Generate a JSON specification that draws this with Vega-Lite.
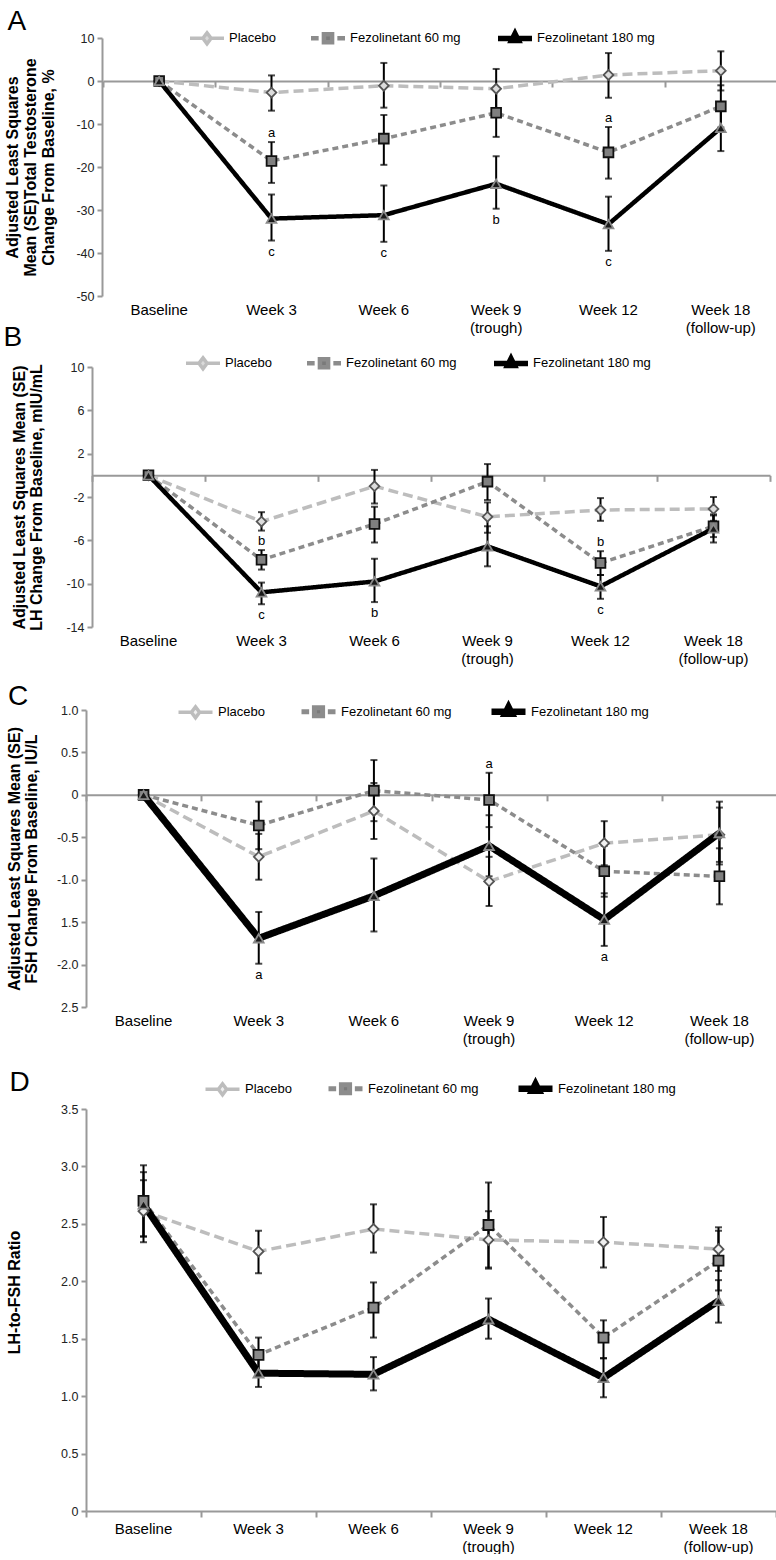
{
  "$schema": "https://vega.github.io/schema/vega-lite/v6.json",
  "background": "white",
  "padding": {"left": 3, "top": 8, "right": 0, "bottom": 0},
  "columns": 1,
  "align": "none",
  "spacing": -11,
  "config": {
    "font": "Liberation Sans",
    "view": {"stroke": null},
    "axisY": {"domainColor": "#999999", "domainWidth": 2, "tickColor": "#999999", "tickWidth": 2, "tickSize": 5, "labelPadding": 3, "labelFontSize": 12.5, "labelColor": "#222222", "titleFontSize": 16, "titleFontWeight": "bold", "titleColor": "#000000", "titleLineHeight": 18, "grid": false},
    "axisX": {"grid": false},
    "title": {"fontSize": 28, "fontWeight": "normal", "anchor": "start", "frame": "bounds", "color": "#000000"},
    "text": {"font": "Liberation Sans"}
  },
  "concat": [
    {
      "width": 691, "height": 258,
      "title": {"text": "A", "dx": 3.5, "offset": -18},
      "data": {"values": [
        {"week": "Baseline", "series": "Placebo", "mean": 0},
        {"week": "Week 3", "series": "Placebo", "mean": -2.7, "lo": -6.9, "hi": 1.3},
        {"week": "Week 6", "series": "Placebo", "mean": -1.1, "lo": -6.2, "hi": 4.2},
        {"week": "Week 9 (trough)", "series": "Placebo", "mean": -1.8, "lo": -6.5, "hi": 2.8},
        {"week": "Week 12", "series": "Placebo", "mean": 1.4, "lo": -3.9, "hi": 6.5},
        {"week": "Week 18 (follow-up)", "series": "Placebo", "mean": 2.4, "lo": -2.2, "hi": 6.9},
        {"week": "Baseline", "series": "Fezolinetant 60 mg", "mean": 0},
        {"week": "Week 3", "series": "Fezolinetant 60 mg", "mean": -18.6, "lo": -23.7, "hi": -14.2, "sig": "a", "sigPos": "above"},
        {"week": "Week 6", "series": "Fezolinetant 60 mg", "mean": -13.4, "lo": -19.5, "hi": -7.9},
        {"week": "Week 9 (trough)", "series": "Fezolinetant 60 mg", "mean": -7.4, "lo": -13.0, "hi": -1.9},
        {"week": "Week 12", "series": "Fezolinetant 60 mg", "mean": -16.6, "lo": -22.7, "hi": -10.7, "sig": "a", "sigPos": "above"},
        {"week": "Week 18 (follow-up)", "series": "Fezolinetant 60 mg", "mean": -5.9, "lo": -10.8, "hi": -1.0},
        {"week": "Baseline", "series": "Fezolinetant 180 mg", "mean": 0},
        {"week": "Week 3", "series": "Fezolinetant 180 mg", "mean": -32.0, "lo": -37.1, "hi": -26.4, "sig": "c", "sigPos": "below"},
        {"week": "Week 6", "series": "Fezolinetant 180 mg", "mean": -31.2, "lo": -37.4, "hi": -24.3, "sig": "c", "sigPos": "below"},
        {"week": "Week 9 (trough)", "series": "Fezolinetant 180 mg", "mean": -23.9, "lo": -29.7, "hi": -17.5, "sig": "b", "sigPos": "below"},
        {"week": "Week 12", "series": "Fezolinetant 180 mg", "mean": -33.3, "lo": -39.5, "hi": -26.9, "sig": "c", "sigPos": "below"},
        {"week": "Week 18 (follow-up)", "series": "Fezolinetant 180 mg", "mean": -10.9, "lo": -16.3, "hi": -5.5}
      ]},
      "encoding": {
        "x": {"field": "week", "type": "ordinal", "sort": ["Baseline", "Week 3", "Week 6", "Week 9 (trough)", "Week 12", "Week 18 (follow-up)"], "scale": {"type": "band", "paddingInner": 0, "paddingOuter": 0, "range": [17, 691]}, "axis": null},
        "y": {"field": "mean", "type": "quantitative", "title": ["Adjusted Least Squares", "Mean (SE)Total Testosterone", "Change From Baseline, %"], "scale": {"domain": [-50, 10], "nice": false, "zero": false}, "axis": {"offset": -16, "values": [-50, -40, -30, -20, -10, 0, 10], "labelExpr": "(datum.value < 0 ? '-' : '') + format(abs(datum.value), 'd')", "minExtent": 28, "maxExtent": 28, "titlePadding": 18}}
      },
      "layer": [
        {
          "mark": {"type": "line", "strokeCap": "butt"},
          "encoding": {
            "x": {"field": "week", "type": "ordinal", "sort": ["Baseline", "Week 3", "Week 6", "Week 9 (trough)", "Week 12", "Week 18 (follow-up)"], "scale": {"type": "band", "paddingInner": 0, "paddingOuter": 0, "range": [17, 691]}, "axis": {"orient": "bottom", "domain": false, "ticks": false, "tickSize": 0, "labelPadding": 6, "labelAngle": 0, "labelFontSize": 15, "labelColor": "#000000", "labelLineHeight": 18, "labelBaseline": "top", "title": null, "labelExpr": "indexof(datum.value, ' (') > 0 ? [substring(datum.value, 0, indexof(datum.value, ' (')), substring(datum.value, indexof(datum.value, ' (') + 1)] : datum.value"}},
            "color": {"field": "series", "type": "nominal", "scale": {"domain": ["Placebo", "Fezolinetant 60 mg", "Fezolinetant 180 mg"], "range": ["#bdbdbd", "#8c8c8c", "#000000"]}, "legend": null},
            "strokeDash": {"field": "series", "type": "nominal", "scale": {"domain": ["Placebo", "Fezolinetant 60 mg", "Fezolinetant 180 mg"], "range": [[10, 5], [6, 4], [1, 0]]}, "legend": null},
            "strokeWidth": {"condition": {"test": "datum.series == 'Fezolinetant 180 mg'", "value": 4.5}, "value": 3.5}
          }
        },
        {
          "transform": [{"filter": "isValid(datum.lo)"}],
          "mark": {"type": "errorbar", "color": "#000000", "ticks": {"size": 7, "thickness": 2, "color": "#000000"}, "rule": {"strokeWidth": 2, "color": "#000000"}},
          "encoding": {
            "y": {"field": "lo", "type": "quantitative", "title": ["Adjusted Least Squares", "Mean (SE)Total Testosterone", "Change From Baseline, %"], "scale": {"domain": [-50, 10], "nice": false, "zero": false}, "axis": {"offset": -16, "values": [-50, -40, -30, -20, -10, 0, 10], "labelExpr": "(datum.value < 0 ? '-' : '') + format(abs(datum.value), 'd')", "minExtent": 28, "maxExtent": 28, "titlePadding": 18}},
            "y2": {"field": "hi"}
          }
        },
        {
          "mark": {"type": "point", "filled": true, "size": 95, "strokeWidth": 1.8, "opacity": 1},
          "encoding": {
            "shape": {"field": "series", "type": "nominal", "scale": {"domain": ["Placebo", "Fezolinetant 60 mg", "Fezolinetant 180 mg"], "range": ["diamond", "square", "triangle-up"]}, "legend": null},
            "fill": {"field": "series", "type": "nominal", "scale": {"domain": ["Placebo", "Fezolinetant 60 mg", "Fezolinetant 180 mg"], "range": ["#dcdcdc", "#7f7f7f", "#1a1a1a"]}, "legend": null},
            "stroke": {"field": "series", "type": "nominal", "scale": {"domain": ["Placebo", "Fezolinetant 60 mg", "Fezolinetant 180 mg"], "range": ["#555555", "#111111", "#8a8a8a"]}, "legend": null}
          }
        },
        {
          "transform": [{"filter": "datum.sigPos == 'above'"}],
          "mark": {"type": "text", "dy": -9, "fontSize": 13, "color": "#000000"},
          "encoding": {
            "y": {"field": "hi", "type": "quantitative", "title": ["Adjusted Least Squares", "Mean (SE)Total Testosterone", "Change From Baseline, %"], "scale": {"domain": [-50, 10], "nice": false, "zero": false}, "axis": {"offset": -16, "values": [-50, -40, -30, -20, -10, 0, 10], "labelExpr": "(datum.value < 0 ? '-' : '') + format(abs(datum.value), 'd')", "minExtent": 28, "maxExtent": 28, "titlePadding": 18}},
            "text": {"field": "sig"}
          }
        },
        {
          "transform": [{"filter": "datum.sigPos == 'below'"}],
          "mark": {"type": "text", "dy": 11, "fontSize": 13, "color": "#000000"},
          "encoding": {
            "y": {"field": "lo", "type": "quantitative", "title": ["Adjusted Least Squares", "Mean (SE)Total Testosterone", "Change From Baseline, %"], "scale": {"domain": [-50, 10], "nice": false, "zero": false}, "axis": {"offset": -16, "values": [-50, -40, -30, -20, -10, 0, 10], "labelExpr": "(datum.value < 0 ? '-' : '') + format(abs(datum.value), 'd')", "minExtent": 28, "maxExtent": 28, "titlePadding": 18}},
            "text": {"field": "sig"}
          }
        },
        {
          "transform": [{"filter": "false"}],
          "mark": {"type": "point", "filled": true, "opacity": 1},
          "encoding": {
            "x": {"field": "week", "type": "ordinal", "sort": ["Baseline", "Week 3", "Week 6", "Week 9 (trough)", "Week 12", "Week 18 (follow-up)"], "scale": {"type": "band", "paddingInner": 0, "paddingOuter": 0, "range": [17, 691]}, "axis": {"orient": "bottom", "offset": -215, "labels": false, "ticks": true, "tickBand": "extent", "tickSize": 6, "tickWidth": 2, "tickColor": "#999999", "domain": true, "domainColor": "#999999", "domainWidth": 2, "title": null}},
            "shape": {"field": "series", "type": "nominal", "scale": {"domain": ["Placebo", "Fezolinetant 60 mg", "Fezolinetant 180 mg"], "range": ["M-1,0L-0.24,0M0.24,0L1,0M0,-0.32L0.24,0L0,0.32L-0.24,0Z", "M-1,0L-0.55,0M0.55,0L1,0M-0.24,-0.24L0.24,-0.24L0.24,0.24L-0.24,0.24Z", "M-1,0L1,0M0,-0.28L0.2,0.12L-0.2,0.12Z"]}, "legend": {"orient": "none", "legendX": 101, "legendY": -20, "direction": "horizontal", "columns": 3, "title": null, "symbolSize": 1156, "labelFontSize": 13, "labelColor": "#000000", "labelOffset": 2, "columnPadding": 26}},
            "fill": {"field": "series", "type": "nominal", "scale": {"domain": ["Placebo", "Fezolinetant 60 mg", "Fezolinetant 180 mg"], "range": ["#d9d9d9", "#7a7a7a", "#111111"]}, "legend": {"orient": "none", "legendX": 101, "legendY": -20, "direction": "horizontal", "columns": 3, "title": null, "symbolSize": 1156, "labelFontSize": 13, "labelColor": "#000000", "labelOffset": 2, "columnPadding": 26}},
            "stroke": {"field": "series", "type": "nominal", "scale": {"domain": ["Placebo", "Fezolinetant 60 mg", "Fezolinetant 180 mg"], "range": ["#bdbdbd", "#8c8c8c", "#000000"]}, "legend": {"orient": "none", "legendX": 101, "legendY": -20, "direction": "horizontal", "columns": 3, "title": null, "symbolSize": 1156, "labelFontSize": 13, "labelColor": "#000000", "labelOffset": 2, "columnPadding": 26}},
            "strokeWidth": {"field": "series", "type": "ordinal", "scale": {"domain": ["Placebo", "Fezolinetant 60 mg", "Fezolinetant 180 mg"], "range": [3.5, 5.5]}, "legend": {"orient": "none", "legendX": 101, "legendY": -20, "direction": "horizontal", "columns": 3, "title": null, "symbolSize": 1156, "labelFontSize": 13, "labelColor": "#000000", "labelOffset": 2, "columnPadding": 26}}
          }
        }
      ],
      "resolve": {"scale": {"shape": "independent", "fill": "independent", "stroke": "independent", "strokeWidth": "independent"}, "axis": {"x": "independent"}}
    },
    {
      "columns": 1,
      "align": "none",
      "spacing": 17,
      "concat": [
        {
          "width": 684, "height": 260,
          "title": {"text": "B", "dx": -7.5, "offset": -9},
          "data": {"values": [
            {"week": "Baseline", "series": "Placebo", "mean": 0},
            {"week": "Week 3", "series": "Placebo", "mean": -4.27, "lo": -5.1, "hi": -3.4},
            {"week": "Week 6", "series": "Placebo", "mean": -1.0, "lo": -2.6, "hi": 0.5},
            {"week": "Week 9 (trough)", "series": "Placebo", "mean": -3.83, "lo": -5.3, "hi": -2.5},
            {"week": "Week 12", "series": "Placebo", "mean": -3.2, "lo": -4.2, "hi": -2.1},
            {"week": "Week 18 (follow-up)", "series": "Placebo", "mean": -3.1, "lo": -4.2, "hi": -2.0},
            {"week": "Baseline", "series": "Fezolinetant 60 mg", "mean": 0},
            {"week": "Week 3", "series": "Fezolinetant 60 mg", "mean": -7.8, "lo": -8.7, "hi": -6.9, "sig": "b", "sigPos": "above"},
            {"week": "Week 6", "series": "Fezolinetant 60 mg", "mean": -4.5, "lo": -6.2, "hi": -2.9},
            {"week": "Week 9 (trough)", "series": "Fezolinetant 60 mg", "mean": -0.58, "lo": -2.28, "hi": 1.04},
            {"week": "Week 12", "series": "Fezolinetant 60 mg", "mean": -8.1, "lo": -9.2, "hi": -7.0, "sig": "b", "sigPos": "above"},
            {"week": "Week 18 (follow-up)", "series": "Fezolinetant 60 mg", "mean": -4.7, "lo": -5.7, "hi": -3.7},
            {"week": "Baseline", "series": "Fezolinetant 180 mg", "mean": 0},
            {"week": "Week 3", "series": "Fezolinetant 180 mg", "mean": -10.8, "lo": -11.9, "hi": -9.9, "sig": "c", "sigPos": "below"},
            {"week": "Week 6", "series": "Fezolinetant 180 mg", "mean": -9.8, "lo": -11.7, "hi": -7.7, "sig": "b", "sigPos": "below"},
            {"week": "Week 9 (trough)", "series": "Fezolinetant 180 mg", "mean": -6.55, "lo": -8.4, "hi": -4.7},
            {"week": "Week 12", "series": "Fezolinetant 180 mg", "mean": -10.25, "lo": -11.4, "hi": -9.2, "sig": "c", "sigPos": "below"},
            {"week": "Week 18 (follow-up)", "series": "Fezolinetant 180 mg", "mean": -4.9, "lo": -6.2, "hi": -3.6}
          ]},
          "encoding": {
            "x": {"field": "week", "type": "ordinal", "sort": ["Baseline", "Week 3", "Week 6", "Week 9 (trough)", "Week 12", "Week 18 (follow-up)"], "scale": {"type": "band", "paddingInner": 0, "paddingOuter": 0, "range": [6, 684]}, "axis": null},
            "y": {"field": "mean", "type": "quantitative", "title": ["Adjusted Least Squares Mean (SE)", "LH Change From Baseline, mIU/mL"], "scale": {"domain": [-14, 10], "nice": false, "zero": false}, "axis": {"offset": -6, "values": [-14, -10, -6, -2, 2, 6, 10], "labelExpr": "(datum.value < 0 ? '-' : '') + format(abs(datum.value), 'd')", "minExtent": 32, "maxExtent": 32, "titlePadding": 16, "titleLineHeight": 17}}
          },
          "layer": [
            {
              "mark": {"type": "line", "strokeCap": "butt"},
              "encoding": {
                "x": {"field": "week", "type": "ordinal", "sort": ["Baseline", "Week 3", "Week 6", "Week 9 (trough)", "Week 12", "Week 18 (follow-up)"], "scale": {"type": "band", "paddingInner": 0, "paddingOuter": 0, "range": [6, 684]}, "axis": {"orient": "bottom", "domain": false, "ticks": false, "tickSize": 0, "labelPadding": 6, "labelAngle": 0, "labelFontSize": 15, "labelColor": "#000000", "labelLineHeight": 18, "labelBaseline": "top", "title": null, "labelExpr": "indexof(datum.value, ' (') > 0 ? [substring(datum.value, 0, indexof(datum.value, ' (')), substring(datum.value, indexof(datum.value, ' (') + 1)] : datum.value"}},
                "color": {"field": "series", "type": "nominal", "scale": {"domain": ["Placebo", "Fezolinetant 60 mg", "Fezolinetant 180 mg"], "range": ["#bdbdbd", "#8c8c8c", "#000000"]}, "legend": null},
                "strokeDash": {"field": "series", "type": "nominal", "scale": {"domain": ["Placebo", "Fezolinetant 60 mg", "Fezolinetant 180 mg"], "range": [[10, 5], [6, 4], [1, 0]]}, "legend": null},
                "strokeWidth": {"condition": {"test": "datum.series == 'Fezolinetant 180 mg'", "value": 4.5}, "value": 3.5}
              }
            },
            {
              "transform": [{"filter": "isValid(datum.lo)"}],
              "mark": {"type": "errorbar", "color": "#000000", "ticks": {"size": 7, "thickness": 2, "color": "#000000"}, "rule": {"strokeWidth": 2, "color": "#000000"}},
              "encoding": {
                "y": {"field": "lo", "type": "quantitative", "title": ["Adjusted Least Squares Mean (SE)", "LH Change From Baseline, mIU/mL"], "scale": {"domain": [-14, 10], "nice": false, "zero": false}, "axis": {"offset": -6, "values": [-14, -10, -6, -2, 2, 6, 10], "labelExpr": "(datum.value < 0 ? '-' : '') + format(abs(datum.value), 'd')", "minExtent": 32, "maxExtent": 32, "titlePadding": 16, "titleLineHeight": 17}},
                "y2": {"field": "hi"}
              }
            },
            {
              "mark": {"type": "point", "filled": true, "size": 95, "strokeWidth": 1.8, "opacity": 1},
              "encoding": {
                "shape": {"field": "series", "type": "nominal", "scale": {"domain": ["Placebo", "Fezolinetant 60 mg", "Fezolinetant 180 mg"], "range": ["diamond", "square", "triangle-up"]}, "legend": null},
                "fill": {"field": "series", "type": "nominal", "scale": {"domain": ["Placebo", "Fezolinetant 60 mg", "Fezolinetant 180 mg"], "range": ["#dcdcdc", "#7f7f7f", "#1a1a1a"]}, "legend": null},
                "stroke": {"field": "series", "type": "nominal", "scale": {"domain": ["Placebo", "Fezolinetant 60 mg", "Fezolinetant 180 mg"], "range": ["#555555", "#111111", "#8a8a8a"]}, "legend": null}
              }
            },
            {
              "transform": [{"filter": "datum.sigPos == 'above'"}],
              "mark": {"type": "text", "dy": -9, "fontSize": 13, "color": "#000000"},
              "encoding": {
                "y": {"field": "hi", "type": "quantitative", "title": ["Adjusted Least Squares Mean (SE)", "LH Change From Baseline, mIU/mL"], "scale": {"domain": [-14, 10], "nice": false, "zero": false}, "axis": {"offset": -6, "values": [-14, -10, -6, -2, 2, 6, 10], "labelExpr": "(datum.value < 0 ? '-' : '') + format(abs(datum.value), 'd')", "minExtent": 32, "maxExtent": 32, "titlePadding": 16, "titleLineHeight": 17}},
                "text": {"field": "sig"}
              }
            },
            {
              "transform": [{"filter": "datum.sigPos == 'below'"}],
              "mark": {"type": "text", "dy": 11, "fontSize": 13, "color": "#000000"},
              "encoding": {
                "y": {"field": "lo", "type": "quantitative", "title": ["Adjusted Least Squares Mean (SE)", "LH Change From Baseline, mIU/mL"], "scale": {"domain": [-14, 10], "nice": false, "zero": false}, "axis": {"offset": -6, "values": [-14, -10, -6, -2, 2, 6, 10], "labelExpr": "(datum.value < 0 ? '-' : '') + format(abs(datum.value), 'd')", "minExtent": 32, "maxExtent": 32, "titlePadding": 16, "titleLineHeight": 17}},
                "text": {"field": "sig"}
              }
            },
            {
              "transform": [{"filter": "false"}],
              "mark": {"type": "point", "filled": true, "opacity": 1},
              "encoding": {
                "x": {"field": "week", "type": "ordinal", "sort": ["Baseline", "Week 3", "Week 6", "Week 9 (trough)", "Week 12", "Week 18 (follow-up)"], "scale": {"type": "band", "paddingInner": 0, "paddingOuter": 0, "range": [6, 684]}, "axis": {"orient": "bottom", "offset": -151.67, "labels": false, "ticks": true, "tickBand": "extent", "tickSize": 6, "tickWidth": 2, "tickColor": "#999999", "domain": true, "domainColor": "#999999", "domainWidth": 2, "title": null}},
                "shape": {"field": "series", "type": "nominal", "scale": {"domain": ["Placebo", "Fezolinetant 60 mg", "Fezolinetant 180 mg"], "range": ["M-1,0L-0.24,0M0.24,0L1,0M0,-0.32L0.24,0L0,0.32L-0.24,0Z", "M-1,0L-0.55,0M0.55,0L1,0M-0.24,-0.24L0.24,-0.24L0.24,0.24L-0.24,0.24Z", "M-1,0L1,0M0,-0.28L0.2,0.12L-0.2,0.12Z"]}, "legend": {"orient": "none", "legendX": 97, "legendY": -24, "direction": "horizontal", "columns": 3, "title": null, "symbolSize": 1156, "labelFontSize": 13, "labelColor": "#000000", "labelOffset": 2, "columnPadding": 26}},
                "fill": {"field": "series", "type": "nominal", "scale": {"domain": ["Placebo", "Fezolinetant 60 mg", "Fezolinetant 180 mg"], "range": ["#d9d9d9", "#7a7a7a", "#111111"]}, "legend": {"orient": "none", "legendX": 97, "legendY": -24, "direction": "horizontal", "columns": 3, "title": null, "symbolSize": 1156, "labelFontSize": 13, "labelColor": "#000000", "labelOffset": 2, "columnPadding": 26}},
                "stroke": {"field": "series", "type": "nominal", "scale": {"domain": ["Placebo", "Fezolinetant 60 mg", "Fezolinetant 180 mg"], "range": ["#bdbdbd", "#8c8c8c", "#000000"]}, "legend": {"orient": "none", "legendX": 97, "legendY": -24, "direction": "horizontal", "columns": 3, "title": null, "symbolSize": 1156, "labelFontSize": 13, "labelColor": "#000000", "labelOffset": 2, "columnPadding": 26}},
                "strokeWidth": {"field": "series", "type": "ordinal", "scale": {"domain": ["Placebo", "Fezolinetant 60 mg", "Fezolinetant 180 mg"], "range": [3.5, 5.5]}, "legend": {"orient": "none", "legendX": 97, "legendY": -24, "direction": "horizontal", "columns": 3, "title": null, "symbolSize": 1156, "labelFontSize": 13, "labelColor": "#000000", "labelOffset": 2, "columnPadding": 26}}
              }
            }
          ],
          "resolve": {"scale": {"shape": "independent", "fill": "independent", "stroke": "independent", "strokeWidth": "independent"}, "axis": {"x": "independent"}}
        },
        {
          "columns": 1,
          "align": "none",
          "spacing": 22,
          "concat": [
            {
              "width": 691, "height": 297,
              "title": {"text": "C", "dx": 2, "offset": -20},
              "data": {"values": [
                {"week": "Baseline", "series": "Placebo", "mean": 0},
                {"week": "Week 3", "series": "Placebo", "mean": -0.73, "lo": -1.0, "hi": -0.46},
                {"week": "Week 6", "series": "Placebo", "mean": -0.19, "lo": -0.52, "hi": 0.14},
                {"week": "Week 9 (trough)", "series": "Placebo", "mean": -1.02, "lo": -1.31, "hi": -0.73},
                {"week": "Week 12", "series": "Placebo", "mean": -0.57, "lo": -0.83, "hi": -0.31},
                {"week": "Week 18 (follow-up)", "series": "Placebo", "mean": -0.47, "lo": -0.79, "hi": -0.15},
                {"week": "Baseline", "series": "Fezolinetant 60 mg", "mean": 0},
                {"week": "Week 3", "series": "Fezolinetant 60 mg", "mean": -0.36, "lo": -0.64, "hi": -0.08},
                {"week": "Week 6", "series": "Fezolinetant 60 mg", "mean": 0.05, "lo": -0.31, "hi": 0.41},
                {"week": "Week 9 (trough)", "series": "Fezolinetant 60 mg", "mean": -0.06, "lo": -0.38, "hi": 0.26, "sig": "a", "sigPos": "above"},
                {"week": "Week 12", "series": "Fezolinetant 60 mg", "mean": -0.9, "lo": -1.2, "hi": -0.6},
                {"week": "Week 18 (follow-up)", "series": "Fezolinetant 60 mg", "mean": -0.96, "lo": -1.29, "hi": -0.63},
                {"week": "Baseline", "series": "Fezolinetant 180 mg", "mean": 0},
                {"week": "Week 3", "series": "Fezolinetant 180 mg", "mean": -1.69, "lo": -1.99, "hi": -1.38, "sig": "a", "sigPos": "below"},
                {"week": "Week 6", "series": "Fezolinetant 180 mg", "mean": -1.19, "lo": -1.61, "hi": -0.75},
                {"week": "Week 9 (trough)", "series": "Fezolinetant 180 mg", "mean": -0.6, "lo": -0.96, "hi": -0.24},
                {"week": "Week 12", "series": "Fezolinetant 180 mg", "mean": -1.47, "lo": -1.78, "hi": -1.16, "sig": "a", "sigPos": "below"},
                {"week": "Week 18 (follow-up)", "series": "Fezolinetant 180 mg", "mean": -0.45, "lo": -0.82, "hi": -0.08}
              ]},
              "encoding": {
                "x": {"field": "week", "type": "ordinal", "sort": ["Baseline", "Week 3", "Week 6", "Week 9 (trough)", "Week 12", "Week 18 (follow-up)"], "scale": {"type": "band", "paddingInner": 0, "paddingOuter": 0}, "axis": null},
                "y": {"field": "mean", "type": "quantitative", "title": ["Adjusted Least Squares Mean (SE)", "FSH Change From Baseline, IU/L"], "scale": {"domain": [-2.5, 1], "nice": false, "zero": false}, "axis": {"values": [-2.5, -2, -1.5, -1, -0.5, 0, 0.5, 1], "labelExpr": "datum.value == 0 ? '0' : (datum.value == -1.5 ? '1.5' : (datum.value == -2.5 ? '2.5' : (datum.value < 0 ? '-' : '') + format(abs(datum.value), '.1f')))", "minExtent": 33, "maxExtent": 33, "titlePadding": 14, "titleLineHeight": 17}}
              },
              "layer": [
                {
                  "mark": {"type": "line", "strokeCap": "butt"},
                  "encoding": {
                    "x": {"field": "week", "type": "ordinal", "sort": ["Baseline", "Week 3", "Week 6", "Week 9 (trough)", "Week 12", "Week 18 (follow-up)"], "scale": {"type": "band", "paddingInner": 0, "paddingOuter": 0}, "axis": {"orient": "bottom", "domain": false, "ticks": false, "tickSize": 0, "labelPadding": 6, "labelAngle": 0, "labelFontSize": 15, "labelColor": "#000000", "labelLineHeight": 18, "labelBaseline": "top", "title": null, "labelExpr": "indexof(datum.value, ' (') > 0 ? [substring(datum.value, 0, indexof(datum.value, ' (')), substring(datum.value, indexof(datum.value, ' (') + 1)] : datum.value"}},
                    "color": {"field": "series", "type": "nominal", "scale": {"domain": ["Placebo", "Fezolinetant 60 mg", "Fezolinetant 180 mg"], "range": ["#bdbdbd", "#8c8c8c", "#000000"]}, "legend": null},
                    "strokeDash": {"field": "series", "type": "nominal", "scale": {"domain": ["Placebo", "Fezolinetant 60 mg", "Fezolinetant 180 mg"], "range": [[10, 5], [6, 4], [1, 0]]}, "legend": null},
                    "strokeWidth": {"condition": {"test": "datum.series == 'Fezolinetant 180 mg'", "value": 7}, "value": 3.5}
                  }
                },
                {
                  "transform": [{"filter": "isValid(datum.lo)"}],
                  "mark": {"type": "errorbar", "color": "#000000", "ticks": {"size": 7, "thickness": 2, "color": "#000000"}, "rule": {"strokeWidth": 2, "color": "#000000"}},
                  "encoding": {
                    "y": {"field": "lo", "type": "quantitative", "title": ["Adjusted Least Squares Mean (SE)", "FSH Change From Baseline, IU/L"], "scale": {"domain": [-2.5, 1], "nice": false, "zero": false}, "axis": {"values": [-2.5, -2, -1.5, -1, -0.5, 0, 0.5, 1], "labelExpr": "datum.value == 0 ? '0' : (datum.value == -1.5 ? '1.5' : (datum.value == -2.5 ? '2.5' : (datum.value < 0 ? '-' : '') + format(abs(datum.value), '.1f')))", "minExtent": 33, "maxExtent": 33, "titlePadding": 14, "titleLineHeight": 17}},
                    "y2": {"field": "hi"}
                  }
                },
                {
                  "mark": {"type": "point", "filled": true, "size": 95, "strokeWidth": 1.8, "opacity": 1},
                  "encoding": {
                    "shape": {"field": "series", "type": "nominal", "scale": {"domain": ["Placebo", "Fezolinetant 60 mg", "Fezolinetant 180 mg"], "range": ["diamond", "square", "triangle-up"]}, "legend": null},
                    "fill": {"field": "series", "type": "nominal", "scale": {"domain": ["Placebo", "Fezolinetant 60 mg", "Fezolinetant 180 mg"], "range": ["#f0f0f0", "#7f7f7f", "#1a1a1a"]}, "legend": null},
                    "stroke": {"field": "series", "type": "nominal", "scale": {"domain": ["Placebo", "Fezolinetant 60 mg", "Fezolinetant 180 mg"], "range": ["#555555", "#111111", "#8a8a8a"]}, "legend": null}
                  }
                },
                {
                  "transform": [{"filter": "datum.sigPos == 'above'"}],
                  "mark": {"type": "text", "dy": -9, "fontSize": 13, "color": "#000000"},
                  "encoding": {
                    "y": {"field": "hi", "type": "quantitative", "title": ["Adjusted Least Squares Mean (SE)", "FSH Change From Baseline, IU/L"], "scale": {"domain": [-2.5, 1], "nice": false, "zero": false}, "axis": {"values": [-2.5, -2, -1.5, -1, -0.5, 0, 0.5, 1], "labelExpr": "datum.value == 0 ? '0' : (datum.value == -1.5 ? '1.5' : (datum.value == -2.5 ? '2.5' : (datum.value < 0 ? '-' : '') + format(abs(datum.value), '.1f')))", "minExtent": 33, "maxExtent": 33, "titlePadding": 14, "titleLineHeight": 17}},
                    "text": {"field": "sig"}
                  }
                },
                {
                  "transform": [{"filter": "datum.sigPos == 'below'"}],
                  "mark": {"type": "text", "dy": 11, "fontSize": 13, "color": "#000000"},
                  "encoding": {
                    "y": {"field": "lo", "type": "quantitative", "title": ["Adjusted Least Squares Mean (SE)", "FSH Change From Baseline, IU/L"], "scale": {"domain": [-2.5, 1], "nice": false, "zero": false}, "axis": {"values": [-2.5, -2, -1.5, -1, -0.5, 0, 0.5, 1], "labelExpr": "datum.value == 0 ? '0' : (datum.value == -1.5 ? '1.5' : (datum.value == -2.5 ? '2.5' : (datum.value < 0 ? '-' : '') + format(abs(datum.value), '.1f')))", "minExtent": 33, "maxExtent": 33, "titlePadding": 14, "titleLineHeight": 17}},
                    "text": {"field": "sig"}
                  }
                },
                {
                  "transform": [{"filter": "false"}],
                  "mark": {"type": "point", "filled": true, "opacity": 1},
                  "encoding": {
                    "x": {"field": "week", "type": "ordinal", "sort": ["Baseline", "Week 3", "Week 6", "Week 9 (trough)", "Week 12", "Week 18 (follow-up)"], "scale": {"type": "band", "paddingInner": 0, "paddingOuter": 0}, "axis": {"orient": "bottom", "offset": -212.14, "labels": false, "ticks": true, "tickBand": "extent", "tickSize": 6, "tickWidth": 2, "tickColor": "#999999", "domain": true, "domainColor": "#999999", "domainWidth": 2, "title": null}},
                    "shape": {"field": "series", "type": "nominal", "scale": {"domain": ["Placebo", "Fezolinetant 60 mg", "Fezolinetant 180 mg"], "range": ["M-1,0L-0.24,0M0.24,0L1,0M0,-0.32L0.24,0L0,0.32L-0.24,0Z", "M-1,0L-0.55,0M0.55,0L1,0M-0.24,-0.24L0.24,-0.24L0.24,0.24L-0.24,0.24Z", "M-1,0L1,0M0,-0.28L0.2,0.12L-0.2,0.12Z"]}, "legend": {"orient": "none", "legendX": 89, "legendY": -19, "direction": "horizontal", "columns": 3, "title": null, "symbolSize": 1156, "labelFontSize": 13, "labelColor": "#000000", "labelOffset": 2, "columnPadding": 26}},
                    "fill": {"field": "series", "type": "nominal", "scale": {"domain": ["Placebo", "Fezolinetant 60 mg", "Fezolinetant 180 mg"], "range": ["#f0f0f0", "#7a7a7a", "#111111"]}, "legend": {"orient": "none", "legendX": 89, "legendY": -19, "direction": "horizontal", "columns": 3, "title": null, "symbolSize": 1156, "labelFontSize": 13, "labelColor": "#000000", "labelOffset": 2, "columnPadding": 26}},
                    "stroke": {"field": "series", "type": "nominal", "scale": {"domain": ["Placebo", "Fezolinetant 60 mg", "Fezolinetant 180 mg"], "range": ["#bdbdbd", "#8c8c8c", "#000000"]}, "legend": {"orient": "none", "legendX": 89, "legendY": -19, "direction": "horizontal", "columns": 3, "title": null, "symbolSize": 1156, "labelFontSize": 13, "labelColor": "#000000", "labelOffset": 2, "columnPadding": 26}},
                    "strokeWidth": {"field": "series", "type": "ordinal", "scale": {"domain": ["Placebo", "Fezolinetant 60 mg", "Fezolinetant 180 mg"], "range": [3.5, 6.5]}, "legend": {"orient": "none", "legendX": 89, "legendY": -19, "direction": "horizontal", "columns": 3, "title": null, "symbolSize": 1156, "labelFontSize": 13, "labelColor": "#000000", "labelOffset": 2, "columnPadding": 26}}
                  }
                }
              ],
              "resolve": {"scale": {"shape": "independent", "fill": "independent", "stroke": "independent", "strokeWidth": "independent"}, "axis": {"x": "independent"}}
            },
            {
              "width": 690, "height": 402,
              "title": {"text": "D", "dx": 3.5, "offset": -29},
              "data": {"values": [
                {"week": "Baseline", "series": "Placebo", "mean": 2.61, "lo": 2.34, "hi": 2.88},
                {"week": "Week 3", "series": "Placebo", "mean": 2.26, "lo": 2.07, "hi": 2.44},
                {"week": "Week 6", "series": "Placebo", "mean": 2.455, "lo": 2.25, "hi": 2.67},
                {"week": "Week 9 (trough)", "series": "Placebo", "mean": 2.36, "lo": 2.11, "hi": 2.61},
                {"week": "Week 12", "series": "Placebo", "mean": 2.34, "lo": 2.12, "hi": 2.56},
                {"week": "Week 18 (follow-up)", "series": "Placebo", "mean": 2.28, "lo": 2.09, "hi": 2.47},
                {"week": "Baseline", "series": "Fezolinetant 60 mg", "mean": 2.7, "lo": 2.39, "hi": 3.01},
                {"week": "Week 3", "series": "Fezolinetant 60 mg", "mean": 1.36, "lo": 1.22, "hi": 1.51},
                {"week": "Week 6", "series": "Fezolinetant 60 mg", "mean": 1.77, "lo": 1.51, "hi": 1.99},
                {"week": "Week 9 (trough)", "series": "Fezolinetant 60 mg", "mean": 2.49, "lo": 2.12, "hi": 2.86},
                {"week": "Week 12", "series": "Fezolinetant 60 mg", "mean": 1.51, "lo": 1.33, "hi": 1.66},
                {"week": "Week 18 (follow-up)", "series": "Fezolinetant 60 mg", "mean": 2.18, "lo": 1.92, "hi": 2.44},
                {"week": "Baseline", "series": "Fezolinetant 180 mg", "mean": 2.67, "lo": 2.39, "hi": 2.95},
                {"week": "Week 3", "series": "Fezolinetant 180 mg", "mean": 1.2, "lo": 1.08, "hi": 1.33},
                {"week": "Week 6", "series": "Fezolinetant 180 mg", "mean": 1.19, "lo": 1.05, "hi": 1.34},
                {"week": "Week 9 (trough)", "series": "Fezolinetant 180 mg", "mean": 1.67, "lo": 1.5, "hi": 1.85},
                {"week": "Week 12", "series": "Fezolinetant 180 mg", "mean": 1.16, "lo": 0.99, "hi": 1.33},
                {"week": "Week 18 (follow-up)", "series": "Fezolinetant 180 mg", "mean": 1.83, "lo": 1.64, "hi": 2.01}
              ]},
              "encoding": {
                "x": {"field": "week", "type": "ordinal", "sort": ["Baseline", "Week 3", "Week 6", "Week 9 (trough)", "Week 12", "Week 18 (follow-up)"], "scale": {"type": "band", "paddingInner": 0, "paddingOuter": 0}, "axis": null},
                "y": {"field": "mean", "type": "quantitative", "title": "LH-to-FSH Ratio", "scale": {"domain": [0, 3.5], "nice": false, "zero": false}, "axis": {"values": [0, 0.5, 1, 1.5, 2, 2.5, 3, 3.5], "labelExpr": "datum.value == 0 ? '0' : format(datum.value, '.1f')", "minExtent": 30, "maxExtent": 30, "titlePadding": 34, "titleY": 183}}
              },
              "layer": [
                {
                  "mark": {"type": "line", "strokeCap": "butt"},
                  "encoding": {
                    "x": {"field": "week", "type": "ordinal", "sort": ["Baseline", "Week 3", "Week 6", "Week 9 (trough)", "Week 12", "Week 18 (follow-up)"], "scale": {"type": "band", "paddingInner": 0, "paddingOuter": 0}, "axis": {"orient": "bottom", "domain": false, "ticks": false, "tickSize": 0, "labelPadding": 10, "labelAngle": 0, "labelFontSize": 15, "labelColor": "#000000", "labelLineHeight": 18, "labelBaseline": "top", "title": null, "labelExpr": "indexof(datum.value, ' (') > 0 ? [substring(datum.value, 0, indexof(datum.value, ' (')), substring(datum.value, indexof(datum.value, ' (') + 1)] : datum.value"}},
                    "color": {"field": "series", "type": "nominal", "scale": {"domain": ["Placebo", "Fezolinetant 60 mg", "Fezolinetant 180 mg"], "range": ["#bdbdbd", "#8c8c8c", "#000000"]}, "legend": null},
                    "strokeDash": {"field": "series", "type": "nominal", "scale": {"domain": ["Placebo", "Fezolinetant 60 mg", "Fezolinetant 180 mg"], "range": [[10, 5], [6, 4], [1, 0]]}, "legend": null},
                    "strokeWidth": {"condition": {"test": "datum.series == 'Fezolinetant 180 mg'", "value": 7}, "value": 3.5}
                  }
                },
                {
                  "mark": {"type": "errorbar", "color": "#000000", "ticks": {"size": 7, "thickness": 2, "color": "#000000"}, "rule": {"strokeWidth": 2, "color": "#000000"}},
                  "encoding": {
                    "y": {"field": "lo", "type": "quantitative", "title": "LH-to-FSH Ratio", "scale": {"domain": [0, 3.5], "nice": false, "zero": false}, "axis": {"values": [0, 0.5, 1, 1.5, 2, 2.5, 3, 3.5], "labelExpr": "datum.value == 0 ? '0' : format(datum.value, '.1f')", "minExtent": 30, "maxExtent": 30, "titlePadding": 34, "titleY": 183}},
                    "y2": {"field": "hi"}
                  }
                },
                {
                  "mark": {"type": "point", "filled": true, "size": 100, "strokeWidth": 1.8, "opacity": 1},
                  "encoding": {
                    "shape": {"field": "series", "type": "nominal", "scale": {"domain": ["Placebo", "Fezolinetant 60 mg", "Fezolinetant 180 mg"], "range": ["diamond", "square", "triangle-up"]}, "legend": null},
                    "fill": {"field": "series", "type": "nominal", "scale": {"domain": ["Placebo", "Fezolinetant 60 mg", "Fezolinetant 180 mg"], "range": ["#f0f0f0", "#8a8a8a", "#1a1a1a"]}, "legend": null},
                    "stroke": {"field": "series", "type": "nominal", "scale": {"domain": ["Placebo", "Fezolinetant 60 mg", "Fezolinetant 180 mg"], "range": ["#555555", "#111111", "#8a8a8a"]}, "legend": null}
                  }
                },
                {
                  "transform": [{"filter": "false"}],
                  "mark": {"type": "point", "filled": true, "opacity": 1},
                  "encoding": {
                    "x": {"field": "week", "type": "ordinal", "sort": ["Baseline", "Week 3", "Week 6", "Week 9 (trough)", "Week 12", "Week 18 (follow-up)"], "scale": {"type": "band", "paddingInner": 0, "paddingOuter": 0}, "axis": {"orient": "bottom", "offset": 0, "labels": false, "ticks": true, "tickBand": "extent", "tickSize": 6, "tickWidth": 2, "tickColor": "#999999", "domain": true, "domainColor": "#999999", "domainWidth": 2, "title": null}},
                    "shape": {"field": "series", "type": "nominal", "scale": {"domain": ["Placebo", "Fezolinetant 60 mg", "Fezolinetant 180 mg"], "range": ["M-1,0L-0.24,0M0.24,0L1,0M0,-0.32L0.24,0L0,0.32L-0.24,0Z", "M-1,0L-0.55,0M0.55,0L1,0M-0.24,-0.24L0.24,-0.24L0.24,0.24L-0.24,0.24Z", "M-1,0L1,0M0,-0.28L0.2,0.12L-0.2,0.12Z"]}, "legend": {"orient": "none", "legendX": 116, "legendY": -41, "direction": "horizontal", "columns": 3, "title": null, "symbolSize": 1156, "labelFontSize": 13, "labelColor": "#000000", "labelOffset": 2, "columnPadding": 26}},
                    "fill": {"field": "series", "type": "nominal", "scale": {"domain": ["Placebo", "Fezolinetant 60 mg", "Fezolinetant 180 mg"], "range": ["#f0f0f0", "#7a7a7a", "#111111"]}, "legend": {"orient": "none", "legendX": 116, "legendY": -41, "direction": "horizontal", "columns": 3, "title": null, "symbolSize": 1156, "labelFontSize": 13, "labelColor": "#000000", "labelOffset": 2, "columnPadding": 26}},
                    "stroke": {"field": "series", "type": "nominal", "scale": {"domain": ["Placebo", "Fezolinetant 60 mg", "Fezolinetant 180 mg"], "range": ["#bdbdbd", "#8c8c8c", "#000000"]}, "legend": {"orient": "none", "legendX": 116, "legendY": -41, "direction": "horizontal", "columns": 3, "title": null, "symbolSize": 1156, "labelFontSize": 13, "labelColor": "#000000", "labelOffset": 2, "columnPadding": 26}},
                    "strokeWidth": {"field": "series", "type": "ordinal", "scale": {"domain": ["Placebo", "Fezolinetant 60 mg", "Fezolinetant 180 mg"], "range": [3.5, 6.5]}, "legend": {"orient": "none", "legendX": 116, "legendY": -41, "direction": "horizontal", "columns": 3, "title": null, "symbolSize": 1156, "labelFontSize": 13, "labelColor": "#000000", "labelOffset": 2, "columnPadding": 26}}
                  }
                }
              ],
              "resolve": {"scale": {"shape": "independent", "fill": "independent", "stroke": "independent", "strokeWidth": "independent"}, "axis": {"x": "independent"}}
            }
          ]
        }
      ]
    }
  ]
}
